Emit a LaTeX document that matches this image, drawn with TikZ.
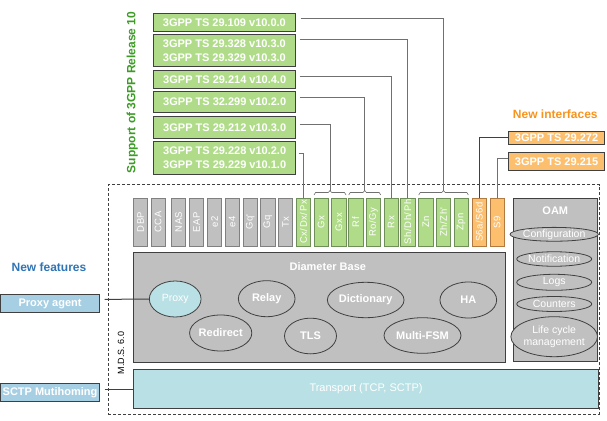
\documentclass[tikz,border=0pt]{standalone}
\usepackage{fontspec}
\setmainfont{Liberation Sans}
\newfontfamily\tabfont[LetterSpace=6]{Liberation Sans}
\usetikzlibrary{calc,shapes.geometric}
\definecolor{boxgray}{HTML}{C0C0C0}
\definecolor{bdark}{HTML}{404040}
\definecolor{tabb}{HTML}{808080}
\definecolor{gfill}{HTML}{B0DC8A}
\definecolor{gbord}{HTML}{6F8F58}
\definecolor{ofill}{HTML}{FCBF6E}
\definecolor{obord}{HTML}{B07A40}
\definecolor{cyanf}{HTML}{B9E0E4}
\definecolor{bluef}{HTML}{A7CFE3}
\definecolor{gtext}{HTML}{3C9C26}
\definecolor{btext}{HTML}{2F74B5}
\definecolor{otext}{HTML}{F7941D}
\definecolor{lineg}{HTML}{707070}
\begin{document}
\begin{tikzpicture}[x=1pt,y=-1pt,
  specbox/.style={draw=bdark, line width=0.8pt, inner sep=0pt, text=white, align=center, anchor=north west,
    font=\fontsize{11}{14}\selectfont\bfseries},
  gbox/.style={specbox, fill=gfill},
  obox/.style={specbox, fill=ofill},
  featbox/.style={specbox, fill=bluef},
  tabbox/.style={draw=tabb, fill=boxgray, line width=0.8pt, rotate=90, minimum width=48pt, minimum height=14.3pt,
    inner sep=0pt, text=white, font=\tabfont\fontsize{9.5}{9.5}\selectfont},
  gtab/.style={tabbox, draw=gbord, fill=gfill},
  otab/.style={tabbox, draw=obord, fill=ofill},
  bigbox/.style={draw=bdark, fill=boxgray, line width=0.8pt, inner sep=0pt, anchor=north west},
  ell/.style={ellipse, draw=bdark, fill=boxgray, line width=0.8pt, inner sep=0pt, text=white,
    font=\fontsize{11}{13}\selectfont\bfseries},
  oell/.style={ellipse, draw=bdark, fill=boxgray, line width=0.8pt, inner sep=0pt, text=white, align=center,
    minimum width=75pt, font=\fontsize{10.5}{12}\selectfont},
  conn/.style={draw=lineg, line width=1pt},
  brace/.style={draw=lineg, line width=0.6pt},
  title/.style={inner sep=0pt, font=\fontsize{12}{14}\selectfont\bfseries}
]
\useasboundingbox (0,0) rectangle (607,420);

% dashed MDS frame
\node[draw=bdark, dashed, line width=0.8pt, dash pattern=on 3pt off 2pt, anchor=north west, inner sep=0pt,
  minimum width=491pt, minimum height=229.7pt] (mds) at (108,184.3) {};
\node[rotate=90, inner sep=0pt, font=\fontsize{9}{9}\selectfont] (mdslabel) at (121,353) {M.D.S. 6.0};

% titles
\node[title, text=gtext, rotate=90] (rel10) at (132.3,92.5) {Support of 3GPP Release 10};
\node[title, text=btext] (newfeat) at (49,267.3) {New features};
\node[title, text=otext] (newint) at (555.3,114.3) {New interfaces};

% green spec boxes
\node[gbox, minimum width=142.6pt, minimum height=17.7pt] (g1) at (152.7,13.3) {3GPP TS 29.109 v10.0.0};
\node[gbox, minimum width=142.6pt, minimum height=31.7pt] (g2) at (152.7,34.3) {3GPP TS 29.328 v10.3.0\\3GPP TS 29.329 v10.3.0};
\node[gbox, minimum width=142pt, minimum height=18.3pt] (g3) at (153.3,70) {3GPP TS 29.214 v10.4.0};
\node[gbox, minimum width=142pt, minimum height=20.7pt] (g4) at (153.3,91.3) {3GPP TS 32.299 v10.2.0};
\node[gbox, minimum width=142pt, minimum height=21.7pt] (g5) at (153.3,116) {3GPP TS 29.212 v10.3.0};
\node[gbox, minimum width=142pt, minimum height=33pt] (g6) at (153.3,141) {3GPP TS 29.228 v10.2.0\\3GPP TS 29.229 v10.1.0};

% orange spec boxes
\node[obox, minimum width=95.7pt, minimum height=13.3pt] (o1) at (508.3,130.7) {3GPP TS 29.272};
\node[obox, minimum width=95.7pt, minimum height=17.7pt] (o2) at (508.3,152.3) {3GPP TS 29.215};

% feature boxes
\node[featbox, minimum width=99.3pt, minimum height=18pt] (pa) at (0,294.3) {Proxy agent};
\node[featbox, minimum width=99.3pt, minimum height=17.7pt] (sctp) at (0,383.3) {SCTP Mutihoming};

% interface tabs
\node[tabbox] (dbp) at (140.5,222) {DBP};
\node[tabbox] (cca) at (158.2,222) {CCA};
\node[tabbox] (nas) at (178.5,222) {NAS};
\node[tabbox] (eap) at (196.5,222) {EAP};
\node[tabbox] (e2) at (214.5,222) {e2};
\node[tabbox] (e4) at (232.2,222) {e4};
\node[tabbox] (gqp) at (250.2,222) {Gq\textquotesingle};
\node[tabbox] (gq) at (267.8,222) {Gq};
\node[tabbox] (tx) at (285.5,222) {Tx};
\node[gtab] (cx) at (303.5,222) {Cx/Dx/Px};
\node[gtab] (gx) at (321.2,222) {Gx};
\node[gtab] (gxx) at (338.8,222) {Gxx};
\node[gtab] (rf) at (355.8,222) {Rf};
\node[gtab] (ro) at (373.5,222) {Ro/Gy};
\node[gtab] (rx) at (391.2,222) {Rx};
\node[gtab] (sh) at (407.8,222) {Sh/Dh/Ph};
\node[gtab] (zn) at (425.8,222) {Zn};
\node[gtab] (zh) at (443.5,222) {Zh/Zh\textquotesingle};
\node[gtab] (zpn) at (461.2,222) {Zpn};
\node[otab] (s6a) at (479.2,222) {S6a/S6d};
\node[otab] (s9) at (497.2,222) {S9};

% group braces
\coordinate (bgx) at (330,190.5);
\coordinate (brf) at (364.7,190.5);
\coordinate (bzn) at (443.5,190.5);
\draw[brace] (314,195) -- (315.5,192.5) -- (328.3,192.5) -- (bgx) -- (331.7,192.5) -- (344.5,192.5) -- (346,195);
\draw[brace] (348.7,195) -- (350.2,192.5) -- (363,192.5) -- (brf) -- (366.4,192.5) -- (379.2,192.5) -- (380.7,195);
\draw[brace] (418.7,195) -- (420.2,192.5) -- (441.8,192.5) -- (bzn) -- (445.2,192.5) -- (466.8,192.5) -- (468.3,195);

% Diameter base
\node[bigbox, minimum width=371.7pt, minimum height=110.3pt] (db) at (133.3,251.7) {};
\node[inner sep=0pt, text=white, font=\fontsize{11}{13}\selectfont\bfseries] (dbtitle) at (327.8,266.7) {Diameter Base};
\node[ell, fill=cyanf, minimum width=51.7pt, minimum height=36pt, font=\fontsize{10.5}{12}\selectfont] (proxy) at (175.2,299) {Proxy};
\node[ell, minimum width=56.7pt, minimum height=36pt] (relay) at (266.7,298.7) {Relay};
\node[ell, minimum width=57pt, minimum height=36pt] (redirect) at (220.7,333) {Redirect};
\node[ell, minimum width=76.7pt, minimum height=35.4pt] (dict) at (365.7,300) {Dictionary};
\node[ell, minimum width=56.7pt, minimum height=36pt] (ha) at (468.3,300) {HA};
\node[ell, minimum width=52pt, minimum height=35.7pt] (tls) at (310.5,336) {TLS};
\node[ell, minimum width=77pt, minimum height=35.6pt] (mfsm) at (422.5,335.5) {Multi-FSM};

% Transport
\node[bigbox, fill=cyanf, minimum width=464.7pt, minimum height=39.3pt] (tp) at (133.3,369) {};
\node[inner sep=0pt, text=white, font=\fontsize{11}{13}\selectfont] (tptext) at (tp.center) {Transport (TCP, SCTP)};

% OAM
\node[bigbox, minimum width=84pt, minimum height=162.4pt] (oam) at (513.3,198.3) {};
\node[inner sep=0pt, text=white, font=\fontsize{11}{13}\selectfont\bfseries] (oamtitle) at (555.3,211) {OAM};
\node[oell, minimum height=13.5pt] (conf) at (554.2,234.3) {Configuration};
\node[oell, minimum height=14.5pt] (notif) at (554.2,259) {Notification};
\node[oell, minimum height=16pt] (logs) at (554.2,282.3) {Logs};
\node[oell, minimum height=15pt] (count) at (554.2,304) {Counters};
\node[oell, minimum height=40pt] (life) at (554.2,336.7) {Life cycle\\management};

% connectors
\draw[conn] ($(g1.north east)+(4.5,5)$) -| (bzn);
\draw[conn] ($(g2.north east)+(3.5,5.7)$) -| (sh.east);
\draw[conn] ($(g3.north east)+(3.5,6)$) -| (rx.east);
\draw[conn] ($(g4.north east)+(3.5,6)$) -| (brf);
\draw[conn] ($(g5.north east)+(3.5,8)$) -| (bgx);
\draw[conn] ($(g6.north east)+(2.5,12.3)$) -| (cx.east);
\draw[conn, draw=bdark] (o1.west) -| (s6a.east);
\draw[conn] ($(o2.north west)+(0,5.7)$) -| (s9.east);
\draw[conn, draw=bdark] ($(pa.east)+(4.5,-4.3)$) -- (proxy.west);
\coordinate (sc1) at ($(sctp.east)+(4.5,-3)$);
\draw[conn, draw=bdark] (sc1) -- (sc1 -| tp.west);
\end{tikzpicture}
\end{document}
